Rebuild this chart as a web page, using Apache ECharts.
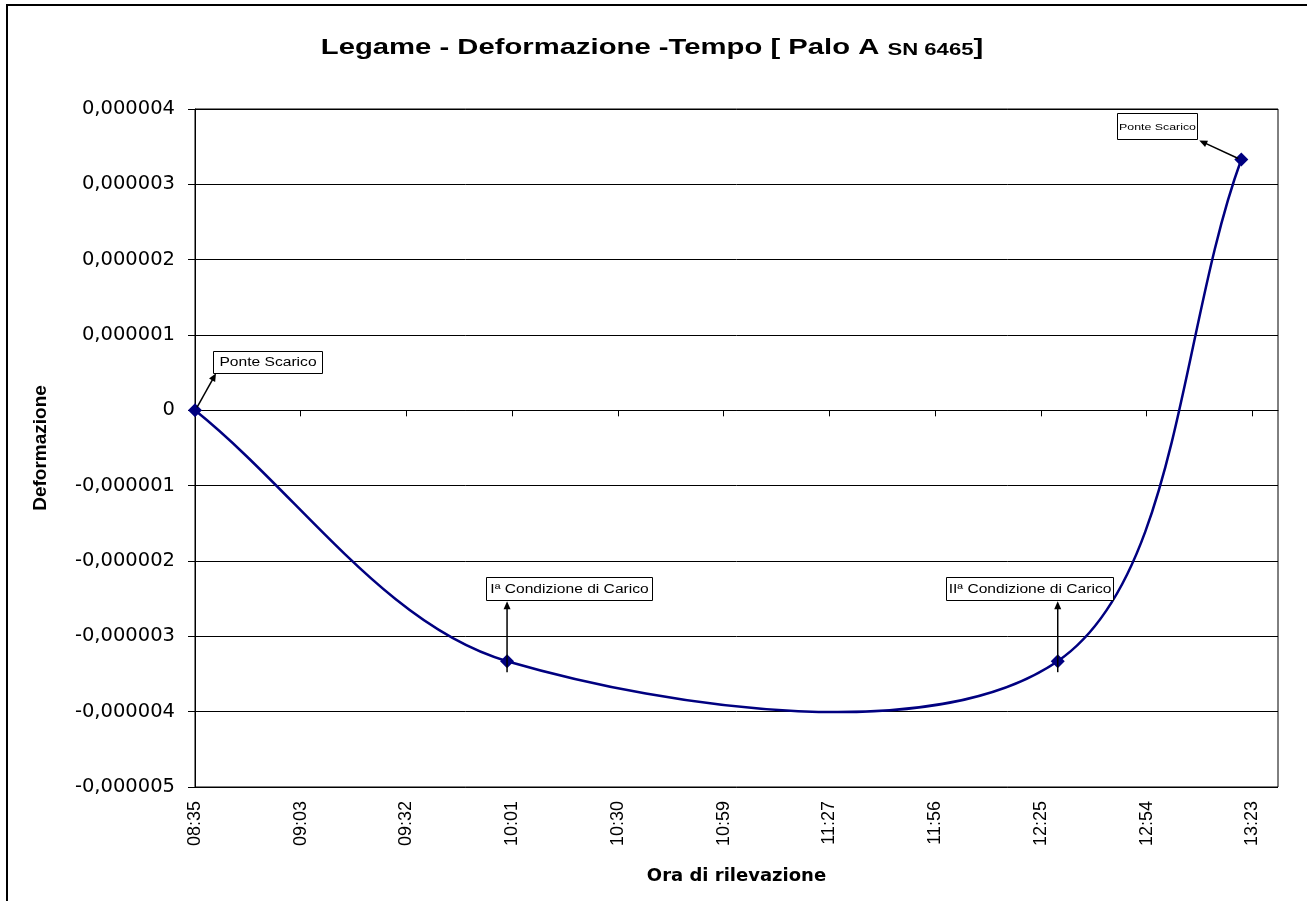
<!DOCTYPE html>
<html>
<head>
<meta charset="utf-8">
<title>Legame - Deformazione -Tempo</title>
<script src="https://cdn.jsdelivr.net/npm/echarts@6.0.0/dist/echarts.min.js"></script>
<style>
  html, body { margin: 0; padding: 0; background: #fff; }
  #chart { width: 1307px; height: 901px; }
</style>
</head>
<body>
<div id="chart"></div>
<script>
// ora di rilevazione e deformazione misurata
const ore = ['08:35', '10:00', '12:30', '13:20'];
const deformazione = [0, -0.00000333, -0.00000333, 0.00000333];

// etichette delle note (una per punto)
const note = ['Ponte Scarico', 'Iª Condizione di Carico', 'IIª Condizione di Carico', 'Ponte Scarico'];

// asse x: inizio e passo in minuti
const oraInizio = '08:35';
const passoMin = 28.8;
const numTick = 11;

function toMin(s) {
  let p = s.split(':');
  return parseInt(p[0], 10) * 60 + parseInt(p[1], 10);
}
const start = toMin(oraInizio);

function fmtOra(v) {
  let t = Math.floor(start + v + 1e-6);
  let h = Math.floor(t / 60), m = t % 60;
  return (h < 10 ? '0' : '') + h + ':' + (m < 10 ? '0' : '') + m;
}

function fmtDef(v) {
  if (Math.abs(v) < 1e-12) return '0';
  return v.toFixed(6).replace('.', ',');
}

let tickValues = [];
for (let k = 0; k < numTick; k++) tickValues.push(+(k * passoMin).toFixed(4));

let seriesData = [];
for (let i in ore) {
  seriesData.push([toMin(ore[i]) - start, deformazione[i]]);
}

// linea smussata tipo Excel: bezier, tangenti pesate sulla lunghezza dei tratti
function dist(a, b) { return Math.sqrt((a[0] - b[0]) * (a[0] - b[0]) + (a[1] - b[1]) * (a[1] - b[1])); }

function renderCurva(params, api) {
  let i = params.dataIndex;
  let n = seriesData.length;
  if (i >= n - 1) return null;
  let P = function (k) { return api.coord(seriesData[Math.max(0, Math.min(n - 1, k))]); };
  let p0 = P(i - 1), p1 = P(i), p2 = P(i + 1), p3 = P(i + 2);
  let d01 = dist(p0, p1), d12 = dist(p1, p2), d23 = dist(p2, p3);
  let f1 = (d01 + d12) > 0 ? d12 / (3 * (d01 + d12)) : 0;
  let f2 = (d12 + d23) > 0 ? d12 / (3 * (d12 + d23)) : 0;
  return {
    type: 'bezierCurve',
    shape: {
      x1: p1[0], y1: p1[1],
      cpx1: p1[0] + (p2[0] - p0[0]) * f1, cpy1: p1[1] + (p2[1] - p0[1]) * f1,
      cpx2: p2[0] - (p3[0] - p1[0]) * f2, cpy2: p2[1] - (p3[1] - p1[1]) * f2,
      x2: p2[0], y2: p2[1]
    },
    style: { stroke: '#000080', lineWidth: 2.5, fill: 'none' }
  };
}

let chartInstance = echarts.init(document.getElementById('chart'));

let option = {
  backgroundColor: '#fff',
  animation: false,
  grid: {
    left: 195,
    right: 29,
    top: 109,
    bottom: 114,
    show: true,
    borderColor: '#000',
    borderWidth: 1,
    outerBoundsMode: 'none'
  },
  xAxis: {
    type: 'value',
    min: 0,
    max: 295,
    interval: passoMin,
    name: 'Ora di rilevazione',
    nameLocation: 'middle',
    nameGap: 80,
    nameTextStyle: {
      fontFamily: 'DejaVu Sans',
      fontWeight: 'bold',
      fontSize: 18,
      color: '#000'
    },
    axisLine: { show: true, lineStyle: { color: '#000', width: 1 } },
    axisTick: {
      show: true,
      inside: false,
      length: 6,
      customValues: tickValues,
      lineStyle: { color: '#000' }
    },
    axisLabel: {
      rotate: 90,
      margin: 14,
      customValues: tickValues,
      fontFamily: 'Liberation Sans',
      fontSize: 18,
      color: '#000',
      formatter: fmtOra
    },
    splitLine: { show: false }
  },
  yAxis: {
    type: 'value',
    min: -0.000005,
    max: 0.000004,
    interval: 0.000001,
    name: 'Deformazione',
    nameLocation: 'middle',
    nameGap: 145,
    nameRotate: 90,
    nameTextStyle: {
      fontFamily: 'Liberation Sans',
      fontWeight: 'bold',
      fontSize: 19,
      color: '#000'
    },
    axisLine: { show: true, lineStyle: { color: '#000', width: 1 } },
    axisTick: { show: true, inside: false, length: 7, lineStyle: { color: '#000' } },
    axisLabel: {
      margin: 20,
      fontFamily: 'DejaVu Sans',
      fontSize: 19.5,
      color: '#000',
      formatter: fmtDef
    },
    splitLine: { show: true, lineStyle: { color: '#000', width: 1 } }
  },
  series: [
    {
      name: 'Curva',
      type: 'custom',
      data: seriesData,
      renderItem: renderCurva,
      encode: { x: 0, y: 1 },
      silent: true,
      z: 4
    },
    {
      name: 'Deformazione',
      type: 'scatter',
      data: seriesData,
      symbol: 'diamond',
      symbolSize: 14,
      itemStyle: { color: '#000080', opacity: 1 },
      z: 5
    }
  ]
};

chartInstance.setOption(option);

// note con freccia, posizionate rispetto ai punti
function freccia(x1, y1, x2, y2) {
  let a = Math.atan2(y2 - y1, x2 - x1), L = 8, W = 3.5;
  let c = Math.cos(a), s = Math.sin(a);
  return [
    { type: 'line', z: 10, shape: { x1: x1, y1: y1, x2: x2 - c * 4, y2: y2 - s * 4 }, style: { stroke: '#000', lineWidth: 1.5 } },
    { type: 'polygon', z: 10, shape: { points: [[x2, y2], [x2 - L * c + W * s, y2 - L * s - W * c], [x2 - L * c - W * s, y2 - L * s + W * c]] }, style: { fill: '#000' } }
  ];
}

function box(testo, x, y, w, h, fs) {
  return [
    { type: 'rect', z: 10, shape: { x: x + 0.5, y: y + 0.5, width: w, height: h }, style: { fill: '#fff', stroke: '#000', lineWidth: 1 } },
    { type: 'text', z: 11, x: x + w / 2 + 0.5, y: y + h / 2 + 1, scaleX: 1.3,
      style: { text: testo, align: 'center', verticalAlign: 'middle', fontFamily: 'Liberation Sans', fontSize: fs, fill: '#000' } }
  ];
}

// [dx box, dy box, larghezza, altezza, font, freccia da (dx,dy) a (dx,dy)]
let layoutNote = [
  [18, -59, 109, 22, 12, [2, -3], [21, -37]],
  [-21, -84, 166, 23, 12, [0, 11], [0, -60]],
  [-112, -84, 167, 23, 12, [0, 11], [0, -60]],
  [-124, -46, 80, 26, 9.5, [-3, -1], [-42, -19]]
];

let elementi = [];
elementi.push({ type: 'rect', shape: { x: 7, y: 5, width: 1400, height: 1000 }, style: { fill: 'none', stroke: '#000', lineWidth: 2 } });

for (let i = 0; i < seriesData.length; i++) {
  let p = chartInstance.convertToPixel({ xAxisIndex: 0, yAxisIndex: 0 }, seriesData[i]);
  let l = layoutNote[i];
  elementi = elementi.concat(freccia(p[0] + l[5][0], p[1] + l[5][1], p[0] + l[6][0], p[1] + l[6][1]));
  elementi = elementi.concat(box(note[i], Math.round(p[0] + l[0]), Math.round(p[1] + l[1]), l[2], l[3], l[4]));
}

// titolo
elementi.push({
  type: 'text',
  x: 652,
  y: 59,
  scaleX: 1.3,
  style: {
    text: '{a|Legame - Deformazione -Tempo [ Palo A }{b|SN 6465}{a|]}',
    align: 'center',
    verticalAlign: 'bottom',
    rich: {
      a: { fontFamily: 'Liberation Sans', fontWeight: 'bold', fontSize: 22.5, fill: '#000', verticalAlign: 'bottom' },
      b: { fontFamily: 'Liberation Sans', fontWeight: 'bold', fontSize: 17, fill: '#000', verticalAlign: 'bottom' }
    }
  }
});

chartInstance.setOption({ graphic: elementi });
</script>
</body>
</html>
